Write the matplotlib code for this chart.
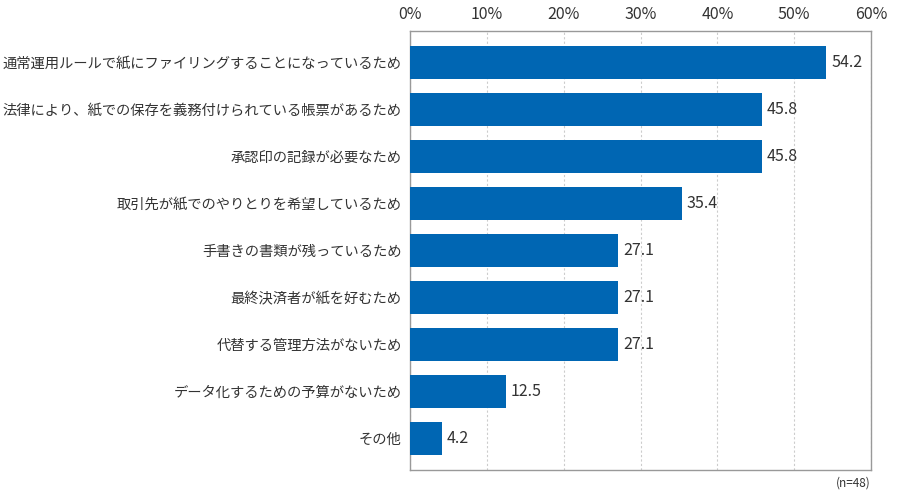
import matplotlib
matplotlib.use("Agg")
import matplotlib.pyplot as plt
from matplotlib.ticker import FuncFormatter

plt.rcParams['font.family'] = ['Noto Sans CJK JP', 'DejaVu Sans']

labels = [
    "通常運用ルールで紙にファイリングすることになっているため",
    "法律により、紙での保存を義務付けられている帳票があるため",
    "承認印の記録が必要なため",
    "取引先が紙でのやりとりを希望しているため",
    "手書きの書類が残っているため",
    "最終決済者が紙を好むため",
    "代替する管理方法がないため",
    "データ化するための予算がないため",
    "その他",
]
values = [54.2, 45.8, 45.8, 35.4, 27.1, 27.1, 27.1, 12.5, 4.2]
ticks = [0, 10, 20, 30, 40, 50, 60]

fig = plt.figure(figsize=(9, 5), dpi=100)
ax = fig.add_axes([0.4556, 0.06, 0.5122, 0.878])

pos = list(range(len(values)))
ax.barh(pos, values, height=0.7, color="#0066b3", zorder=3)
for p, v in zip(pos, values):
    ax.text(v + 0.6, p, f"{v:.1f}", va="center", ha="left", fontsize=11.5, color="#333333")

ax.set_xlim(0, 60)
ax.set_ylim(8.67, -0.67)
ax.set_xticks(ticks)
ax.xaxis.set_major_formatter(FuncFormatter(lambda x, _: f"{int(x)}%"))
ax.xaxis.tick_top()
ax.set_yticks(pos)
ax.set_yticklabels(labels, fontsize=10.3)
ax.tick_params(axis="x", length=0, labelsize=11.5, colors="#333333", pad=6)
ax.tick_params(axis="y", length=0, colors="#333333", pad=6)
ax.grid(axis="x", linestyle=(0, (2, 2)), color="#cccccc", linewidth=0.8, zorder=0)
for s in ax.spines.values():
    s.set_color("#999999")
    s.set_linewidth(1)

fig.text(0.967, 0.02, "(n=48)", ha="right", va="bottom", fontsize=8.5, color="#333333")

fig.savefig("out.png", dpi=100)
